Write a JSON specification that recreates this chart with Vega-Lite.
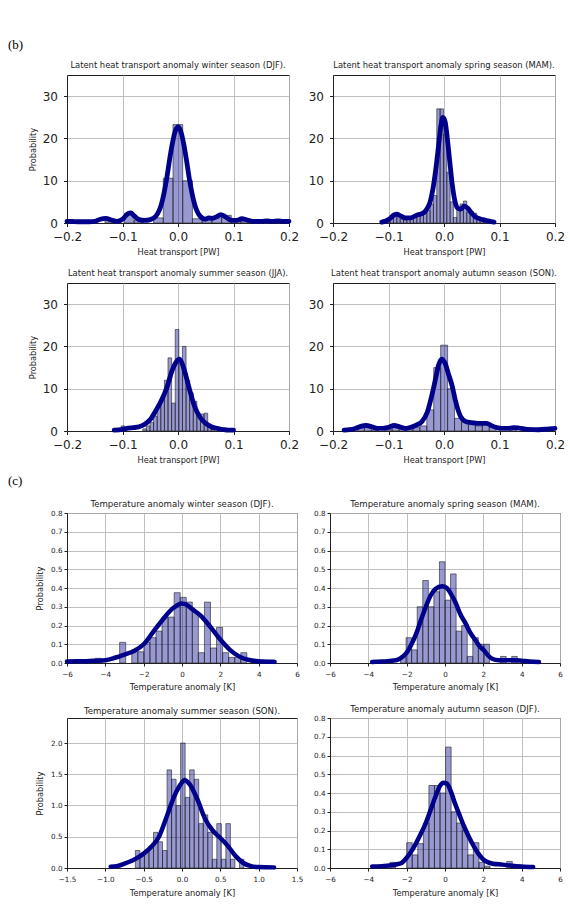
{
"$schema": "https://vega.github.io/schema/vega-lite/v6.json",
"padding": {"left": 8, "top": 39, "right": 4, "bottom": 4},
"background": "white",
"spacing": 9,
"config": {
  "font": "DejaVu Sans",
  "view": {"stroke": "#222", "strokeWidth": 1},
  "axis": {"grid": true, "gridColor": "#b8b8b8", "gridWidth": 0.9, "domainColor": "#222", "tickColor": "#222", "labelColor": "#222", "titleColor": "#222", "titleFontWeight": "normal", "labelFlush": false, "labelOverlap": false, "tickCount": 20},
  "title": {"fontWeight": "normal", "color": "#222"}
},
"datasets": {
  "b1b": [
    {"x": -0.1315, "x2": -0.114, "y": 1.0}, {"x": -0.0965, "x2": -0.079, "y": 2.3}, {"x": -0.079, "x2": -0.0615, "y": 0.6},
    {"x": -0.044, "x2": -0.0265, "y": 1.2}, {"x": -0.0265, "x2": -0.009, "y": 10.6}, {"x": -0.009, "x2": 0.0085, "y": 23.3},
    {"x": 0.0085, "x2": 0.026, "y": 10.0}, {"x": 0.026, "x2": 0.0435, "y": 1.0}, {"x": 0.0435, "x2": 0.061, "y": 1.2},
    {"x": 0.061, "x2": 0.0785, "y": 1.6}, {"x": 0.0785, "x2": 0.096, "y": 1.8}, {"x": 0.096, "x2": 0.1135, "y": 0.5},
    {"x": 0.1135, "x2": 0.131, "y": 0.9}, {"x": 0.166, "x2": 0.1835, "y": 0.3}
  ],
  "b1k": [
    {"x": -0.2, "y": 0.4}, {"x": -0.19, "y": 0.35}, {"x": -0.18, "y": 0.3}, {"x": -0.17, "y": 0.3}, {"x": -0.16, "y": 0.3},
    {"x": -0.15, "y": 0.4}, {"x": -0.14, "y": 0.9}, {"x": -0.13, "y": 1.1}, {"x": -0.12, "y": 0.7}, {"x": -0.11, "y": 0.4},
    {"x": -0.1, "y": 0.9}, {"x": -0.09, "y": 2.2}, {"x": -0.085, "y": 2.4}, {"x": -0.08, "y": 1.8}, {"x": -0.07, "y": 0.8},
    {"x": -0.06, "y": 0.6}, {"x": -0.05, "y": 0.8}, {"x": -0.04, "y": 1.6}, {"x": -0.03, "y": 4.4}, {"x": -0.02, "y": 10.8},
    {"x": -0.015, "y": 15.1}, {"x": -0.01, "y": 18.9}, {"x": -0.005, "y": 21.7}, {"x": 0, "y": 22.7}, {"x": 0.005, "y": 21.7},
    {"x": 0.01, "y": 18.9}, {"x": 0.015, "y": 15.1}, {"x": 0.02, "y": 10.8}, {"x": 0.03, "y": 4.4}, {"x": 0.04, "y": 1.6},
    {"x": 0.05, "y": 0.9}, {"x": 0.055, "y": 1.2}, {"x": 0.062, "y": 1.1}, {"x": 0.07, "y": 1.5}, {"x": 0.077, "y": 2.0},
    {"x": 0.085, "y": 1.5}, {"x": 0.095, "y": 0.7}, {"x": 0.105, "y": 0.6}, {"x": 0.115, "y": 1.0}, {"x": 0.125, "y": 0.7},
    {"x": 0.135, "y": 0.4}, {"x": 0.15, "y": 0.4}, {"x": 0.16, "y": 0.5}, {"x": 0.17, "y": 0.4}, {"x": 0.18, "y": 0.5},
    {"x": 0.19, "y": 0.4}, {"x": 0.2, "y": 0.4}
  ],
  "b2b": [
    {"x": -0.103, "x2": -0.097, "y": 0.3}, {"x": -0.097, "x2": -0.091, "y": 1.0}, {"x": -0.091, "x2": -0.085, "y": 2.0},
    {"x": -0.085, "x2": -0.079, "y": 2.0}, {"x": -0.079, "x2": -0.073, "y": 1.0}, {"x": -0.073, "x2": -0.067, "y": 0.7},
    {"x": -0.067, "x2": -0.061, "y": 0.8}, {"x": -0.061, "x2": -0.055, "y": 1.2}, {"x": -0.055, "x2": -0.049, "y": 1.8},
    {"x": -0.049, "x2": -0.043, "y": 2.3}, {"x": -0.043, "x2": -0.037, "y": 2.0}, {"x": -0.037, "x2": -0.031, "y": 2.5},
    {"x": -0.031, "x2": -0.025, "y": 3.0}, {"x": -0.025, "x2": -0.019, "y": 4.5}, {"x": -0.019, "x2": -0.013, "y": 6.5},
    {"x": -0.013, "x2": -0.007, "y": 27.0}, {"x": -0.007, "x2": -0.001, "y": 27.0}, {"x": -0.001, "x2": 0.005, "y": 21.0},
    {"x": 0.005, "x2": 0.011, "y": 12.0}, {"x": 0.011, "x2": 0.017, "y": 5.0}, {"x": 0.017, "x2": 0.023, "y": 1.3},
    {"x": 0.023, "x2": 0.029, "y": 3.5}, {"x": 0.029, "x2": 0.035, "y": 4.5}, {"x": 0.035, "x2": 0.041, "y": 5.2},
    {"x": 0.041, "x2": 0.047, "y": 2.5}, {"x": 0.047, "x2": 0.053, "y": 2.7}, {"x": 0.053, "x2": 0.059, "y": 2.3},
    {"x": 0.059, "x2": 0.065, "y": 1.0}, {"x": 0.065, "x2": 0.071, "y": 0.8}, {"x": 0.071, "x2": 0.077, "y": 0.3}
  ],
  "b2k": [
    {"x": -0.112, "y": 0.2}, {"x": -0.1, "y": 0.8}, {"x": -0.09, "y": 1.9}, {"x": -0.085, "y": 2.1}, {"x": -0.08, "y": 1.8},
    {"x": -0.07, "y": 1.2}, {"x": -0.06, "y": 1.2}, {"x": -0.05, "y": 1.8}, {"x": -0.045, "y": 2.0}, {"x": -0.04, "y": 2.2},
    {"x": -0.035, "y": 2.6}, {"x": -0.03, "y": 3.5}, {"x": -0.025, "y": 5.0}, {"x": -0.02, "y": 8.0}, {"x": -0.015, "y": 12.5},
    {"x": -0.01, "y": 18.0}, {"x": -0.005, "y": 23.5}, {"x": -0.002, "y": 25.0}, {"x": 0.002, "y": 24.0}, {"x": 0.006, "y": 20.0},
    {"x": 0.01, "y": 15.0}, {"x": 0.015, "y": 9.0}, {"x": 0.02, "y": 5.0}, {"x": 0.025, "y": 3.5}, {"x": 0.03, "y": 3.3},
    {"x": 0.037, "y": 4.0}, {"x": 0.043, "y": 3.5}, {"x": 0.05, "y": 2.3}, {"x": 0.055, "y": 1.6}, {"x": 0.06, "y": 1.2},
    {"x": 0.07, "y": 0.8}, {"x": 0.08, "y": 0.5}, {"x": 0.09, "y": 0.2}
  ],
  "b3b": [
    {"x": -0.1025, "x2": -0.096, "y": 1.2}, {"x": -0.0635, "x2": -0.057, "y": 0.5}, {"x": -0.057, "x2": -0.0505, "y": 1.2},
    {"x": -0.0505, "x2": -0.044, "y": 2.0}, {"x": -0.044, "x2": -0.0375, "y": 3.5}, {"x": -0.0375, "x2": -0.031, "y": 6.0},
    {"x": -0.031, "x2": -0.0245, "y": 8.0}, {"x": -0.0245, "x2": -0.018, "y": 12.0}, {"x": -0.018, "x2": -0.0115, "y": 17.3},
    {"x": -0.0115, "x2": -0.005, "y": 6.6}, {"x": -0.005, "x2": 0.0015, "y": 24.0}, {"x": 0.0015, "x2": 0.008, "y": 16.0},
    {"x": 0.008, "x2": 0.0145, "y": 20.0}, {"x": 0.0145, "x2": 0.021, "y": 12.0}, {"x": 0.021, "x2": 0.0275, "y": 9.0},
    {"x": 0.0275, "x2": 0.034, "y": 7.0}, {"x": 0.034, "x2": 0.0405, "y": 4.0}, {"x": 0.0405, "x2": 0.047, "y": 4.0},
    {"x": 0.047, "x2": 0.0535, "y": 4.2}, {"x": 0.0535, "x2": 0.06, "y": 1.0}, {"x": 0.06, "x2": 0.0665, "y": 0.5}
  ],
  "b3k": [
    {"x": -0.115, "y": 0.2}, {"x": -0.1, "y": 0.4}, {"x": -0.09, "y": 0.7}, {"x": -0.08, "y": 0.8}, {"x": -0.07, "y": 1.0},
    {"x": -0.06, "y": 1.6}, {"x": -0.05, "y": 2.7}, {"x": -0.04, "y": 4.8}, {"x": -0.03, "y": 7.2}, {"x": -0.02, "y": 10.3},
    {"x": -0.01, "y": 14.5}, {"x": 0, "y": 16.8}, {"x": 0.003, "y": 17.0}, {"x": 0.01, "y": 15.0}, {"x": 0.02, "y": 10.2},
    {"x": 0.03, "y": 5.8}, {"x": 0.04, "y": 3.2}, {"x": 0.05, "y": 1.8}, {"x": 0.06, "y": 1.0}, {"x": 0.07, "y": 0.6},
    {"x": 0.08, "y": 0.4}, {"x": 0.09, "y": 0.2}, {"x": 0.1, "y": 0.2}
  ],
  "b4b": [
    {"x": -0.156, "x2": -0.1435, "y": 1.0}, {"x": -0.1435, "x2": -0.131, "y": 1.5}, {"x": -0.131, "x2": -0.1185, "y": 0.3},
    {"x": -0.106, "x2": -0.0935, "y": 0.4}, {"x": -0.0935, "x2": -0.081, "y": 1.5}, {"x": -0.081, "x2": -0.0685, "y": 0.6},
    {"x": -0.0685, "x2": -0.056, "y": 0.5}, {"x": -0.056, "x2": -0.0435, "y": 0.8}, {"x": -0.0435, "x2": -0.031, "y": 1.2},
    {"x": -0.031, "x2": -0.0185, "y": 5.0}, {"x": -0.0185, "x2": -0.006, "y": 15.0}, {"x": -0.006, "x2": 0.0065, "y": 20.3},
    {"x": 0.0065, "x2": 0.019, "y": 10.0}, {"x": 0.019, "x2": 0.0315, "y": 3.0}, {"x": 0.0315, "x2": 0.044, "y": 2.0},
    {"x": 0.044, "x2": 0.0565, "y": 1.5}, {"x": 0.0565, "x2": 0.069, "y": 1.2}, {"x": 0.069, "x2": 0.0815, "y": 1.8},
    {"x": 0.0815, "x2": 0.094, "y": 0.8}, {"x": 0.119, "x2": 0.1315, "y": 0.5}, {"x": 0.1815, "x2": 0.194, "y": 0.3}
  ],
  "b4k": [
    {"x": -0.18, "y": 0.2}, {"x": -0.17, "y": 0.3}, {"x": -0.16, "y": 0.6}, {"x": -0.15, "y": 1.1}, {"x": -0.14, "y": 1.3},
    {"x": -0.13, "y": 1.0}, {"x": -0.12, "y": 0.6}, {"x": -0.11, "y": 0.6}, {"x": -0.1, "y": 0.9}, {"x": -0.09, "y": 1.3},
    {"x": -0.08, "y": 1.0}, {"x": -0.07, "y": 0.6}, {"x": -0.06, "y": 0.9}, {"x": -0.05, "y": 1.4}, {"x": -0.04, "y": 2.2},
    {"x": -0.03, "y": 4.5}, {"x": -0.02, "y": 9.5}, {"x": -0.015, "y": 12.5}, {"x": -0.01, "y": 15.5}, {"x": -0.004, "y": 17.0},
    {"x": 0.002, "y": 16.0}, {"x": 0.008, "y": 13.5}, {"x": 0.015, "y": 10.5}, {"x": 0.02, "y": 7.5}, {"x": 0.03, "y": 3.4},
    {"x": 0.04, "y": 2.2}, {"x": 0.05, "y": 2.0}, {"x": 0.06, "y": 1.8}, {"x": 0.07, "y": 1.8}, {"x": 0.077, "y": 1.8},
    {"x": 0.085, "y": 1.3}, {"x": 0.095, "y": 0.8}, {"x": 0.105, "y": 0.6}, {"x": 0.115, "y": 0.6}, {"x": 0.125, "y": 0.8},
    {"x": 0.135, "y": 0.7}, {"x": 0.15, "y": 0.4}, {"x": 0.17, "y": 0.3}, {"x": 0.19, "y": 0.5}, {"x": 0.2, "y": 0.6}
  ],
  "c1b": [
    {"x": -4.518, "x2": -4.202, "y": 0.025}, {"x": -3.254, "x2": -2.938, "y": 0.11}, {"x": -2.622, "x2": -2.306, "y": 0.07},
    {"x": -2.306, "x2": -1.99, "y": 0.06}, {"x": -1.99, "x2": -1.674, "y": 0.11}, {"x": -1.674, "x2": -1.358, "y": 0.135},
    {"x": -1.358, "x2": -1.042, "y": 0.17}, {"x": -1.042, "x2": -0.726, "y": 0.245}, {"x": -0.726, "x2": -0.41, "y": 0.245},
    {"x": -0.41, "x2": -0.094, "y": 0.375}, {"x": -0.094, "x2": 0.222, "y": 0.35}, {"x": 0.222, "x2": 0.538, "y": 0.325},
    {"x": 0.538, "x2": 0.854, "y": 0.27}, {"x": 0.854, "x2": 1.17, "y": 0.055}, {"x": 1.17, "x2": 1.486, "y": 0.325},
    {"x": 1.486, "x2": 1.802, "y": 0.08}, {"x": 1.802, "x2": 2.118, "y": 0.19}, {"x": 2.118, "x2": 2.434, "y": 0.055},
    {"x": 2.434, "x2": 2.75, "y": 0.03}, {"x": 2.75, "x2": 3.066, "y": 0.03}, {"x": 3.066, "x2": 3.382, "y": 0.055}
  ],
  "c1k": [
    {"x": -6, "y": 0.008}, {"x": -5.5, "y": 0.01}, {"x": -5, "y": 0.01}, {"x": -4.5, "y": 0.012}, {"x": -4, "y": 0.015},
    {"x": -3.5, "y": 0.028}, {"x": -3, "y": 0.045}, {"x": -2.5, "y": 0.064}, {"x": -2, "y": 0.1}, {"x": -1.5, "y": 0.166},
    {"x": -1, "y": 0.232}, {"x": -0.5, "y": 0.29}, {"x": 0, "y": 0.318}, {"x": 0.25, "y": 0.31}, {"x": 0.5, "y": 0.29},
    {"x": 1, "y": 0.25}, {"x": 1.5, "y": 0.19}, {"x": 2, "y": 0.125}, {"x": 2.5, "y": 0.07}, {"x": 3, "y": 0.034},
    {"x": 3.5, "y": 0.016}, {"x": 4, "y": 0.009}, {"x": 4.83, "y": 0.006}
  ],
  "c2b": [
    {"x": -2.32, "x2": -2.03, "y": 0.035}, {"x": -2.03, "x2": -1.74, "y": 0.135}, {"x": -1.74, "x2": -1.45, "y": 0.07},
    {"x": -1.45, "x2": -1.16, "y": 0.3}, {"x": -1.16, "x2": -0.87, "y": 0.44}, {"x": -0.87, "x2": -0.58, "y": 0.3},
    {"x": -0.58, "x2": -0.29, "y": 0.38}, {"x": -0.29, "x2": 0, "y": 0.54}, {"x": 0, "x2": 0.29, "y": 0.335},
    {"x": 0.29, "x2": 0.58, "y": 0.475}, {"x": 0.58, "x2": 0.87, "y": 0.17}, {"x": 0.87, "x2": 1.16, "y": 0.2},
    {"x": 1.16, "x2": 1.45, "y": 0.035}, {"x": 1.45, "x2": 1.74, "y": 0.135}, {"x": 1.74, "x2": 2.03, "y": 0.1},
    {"x": 2.03, "x2": 2.32, "y": 0.1}, {"x": 2.9, "x2": 3.19, "y": 0.035}, {"x": 3.48, "x2": 3.77, "y": 0.035}
  ],
  "c2k": [
    {"x": -3.8, "y": 0.005}, {"x": -3.5, "y": 0.007}, {"x": -3, "y": 0.01}, {"x": -2.5, "y": 0.016}, {"x": -2.2, "y": 0.035},
    {"x": -2, "y": 0.055}, {"x": -1.75, "y": 0.1}, {"x": -1.5, "y": 0.157}, {"x": -1.25, "y": 0.23}, {"x": -1, "y": 0.3},
    {"x": -0.75, "y": 0.36}, {"x": -0.5, "y": 0.395}, {"x": -0.15, "y": 0.41}, {"x": 0.1, "y": 0.4}, {"x": 0.3, "y": 0.37},
    {"x": 0.56, "y": 0.32}, {"x": 0.8, "y": 0.26}, {"x": 1.08, "y": 0.21}, {"x": 1.3, "y": 0.165}, {"x": 1.6, "y": 0.12},
    {"x": 1.8, "y": 0.09}, {"x": 2.03, "y": 0.068}, {"x": 2.25, "y": 0.04}, {"x": 2.46, "y": 0.023}, {"x": 2.8, "y": 0.015},
    {"x": 3.2, "y": 0.015}, {"x": 3.6, "y": 0.015}, {"x": 4, "y": 0.012}, {"x": 4.4, "y": 0.008}, {"x": 4.9, "y": 0.005}
  ],
  "c3b": [
    {"x": -0.608, "x2": -0.549, "y": 0.28}, {"x": -0.549, "x2": -0.49, "y": 0.21}, {"x": -0.49, "x2": -0.431, "y": 0.28},
    {"x": -0.431, "x2": -0.372, "y": 0.35}, {"x": -0.372, "x2": -0.313, "y": 0.57}, {"x": -0.313, "x2": -0.254, "y": 0.42},
    {"x": -0.254, "x2": -0.195, "y": 0.28}, {"x": -0.195, "x2": -0.136, "y": 1.57}, {"x": -0.136, "x2": -0.077, "y": 1.42},
    {"x": -0.077, "x2": -0.018, "y": 1.0}, {"x": -0.018, "x2": 0.041, "y": 2.0}, {"x": 0.041, "x2": 0.1, "y": 1.13},
    {"x": 0.1, "x2": 0.159, "y": 1.57}, {"x": 0.159, "x2": 0.218, "y": 1.42}, {"x": 0.218, "x2": 0.277, "y": 0.71},
    {"x": 0.277, "x2": 0.336, "y": 0.85}, {"x": 0.336, "x2": 0.395, "y": 0.57}, {"x": 0.395, "x2": 0.454, "y": 0.14},
    {"x": 0.454, "x2": 0.513, "y": 0.71}, {"x": 0.513, "x2": 0.572, "y": 0.14}, {"x": 0.572, "x2": 0.631, "y": 0.71},
    {"x": 0.631, "x2": 0.69, "y": 0.14}, {"x": 0.749, "x2": 0.808, "y": 0.14}
  ],
  "c3k": [
    {"x": -0.93, "y": 0.02}, {"x": -0.85, "y": 0.03}, {"x": -0.75, "y": 0.07}, {"x": -0.6, "y": 0.15}, {"x": -0.5, "y": 0.23},
    {"x": -0.4, "y": 0.34}, {"x": -0.3, "y": 0.5}, {"x": -0.2, "y": 0.82}, {"x": -0.1, "y": 1.15}, {"x": 0, "y": 1.37},
    {"x": 0.03, "y": 1.41}, {"x": 0.1, "y": 1.34}, {"x": 0.2, "y": 1.1}, {"x": 0.3, "y": 0.79}, {"x": 0.4, "y": 0.6},
    {"x": 0.5, "y": 0.48}, {"x": 0.6, "y": 0.35}, {"x": 0.7, "y": 0.19}, {"x": 0.8, "y": 0.08}, {"x": 0.9, "y": 0.03},
    {"x": 1.0, "y": 0.015}, {"x": 1.2, "y": 0.01}
  ],
  "c4b": [
    {"x": -2.87, "x2": -2.58, "y": 0.03}, {"x": -2.0, "x2": -1.71, "y": 0.135}, {"x": -1.71, "x2": -1.42, "y": 0.07},
    {"x": -1.42, "x2": -1.13, "y": 0.13}, {"x": -1.13, "x2": -0.84, "y": 0.24}, {"x": -0.84, "x2": -0.55, "y": 0.44},
    {"x": -0.55, "x2": -0.26, "y": 0.44}, {"x": -0.26, "x2": 0.03, "y": 0.4}, {"x": 0.03, "x2": 0.32, "y": 0.645},
    {"x": 0.32, "x2": 0.61, "y": 0.3}, {"x": 0.61, "x2": 0.9, "y": 0.24}, {"x": 0.9, "x2": 1.19, "y": 0.2},
    {"x": 1.19, "x2": 1.48, "y": 0.07}, {"x": 1.48, "x2": 1.77, "y": 0.135}, {"x": 1.77, "x2": 2.06, "y": 0.03},
    {"x": 2.06, "x2": 2.35, "y": 0.01}, {"x": 3.22, "x2": 3.51, "y": 0.035}
  ],
  "c4k": [
    {"x": -3.8, "y": 0.008}, {"x": -3.3, "y": 0.01}, {"x": -2.8, "y": 0.015}, {"x": -2.5, "y": 0.02}, {"x": -2.3, "y": 0.025},
    {"x": -2.0, "y": 0.055}, {"x": -1.75, "y": 0.09}, {"x": -1.5, "y": 0.134}, {"x": -1.25, "y": 0.185}, {"x": -1.0, "y": 0.24},
    {"x": -0.75, "y": 0.31}, {"x": -0.5, "y": 0.38}, {"x": -0.25, "y": 0.44}, {"x": -0.1, "y": 0.455}, {"x": 0.1, "y": 0.45},
    {"x": 0.3, "y": 0.41}, {"x": 0.5, "y": 0.35}, {"x": 0.75, "y": 0.285}, {"x": 1.0, "y": 0.22}, {"x": 1.25, "y": 0.165},
    {"x": 1.5, "y": 0.116}, {"x": 1.75, "y": 0.075}, {"x": 2.0, "y": 0.045}, {"x": 2.25, "y": 0.03}, {"x": 2.5, "y": 0.023},
    {"x": 3.0, "y": 0.018}, {"x": 3.5, "y": 0.012}, {"x": 4.0, "y": 0.008}, {"x": 4.6, "y": 0.005}
  ]
},
"vconcat": [
  {
    "title": {"text": "(b)", "anchor": "start", "frame": "group", "font": "Liberation Serif", "fontSize": 13, "color": "#000", "dx": -59, "offset": 8},
    "columns": 2, "bounds": "flush", "spacing": {"column": 44, "row": 60},
    "concat": [
      {"width": 222, "height": 148, "title": {"text": "Latent heat transport anomaly winter season (DJF).", "fontSize": 8.4, "offset": 6},
       "layer": [
        {"data": {"name": "b1b"}, "mark": {"type": "rect", "fill": "#00008b", "fillOpacity": 0.4, "stroke": "#222", "strokeWidth": 0.6},
         "encoding": {
          "x": {"field": "x", "type": "quantitative", "scale": {"domain": [-0.2, 0.2], "nice": false, "zero": false}, "axis": {"title": "Heat transport [PW]", "values": [-0.2, -0.1, 0, 0.1, 0.2], "format": ".1f", "labelFontSize": 12, "titleFontSize": 8.2, "tickSize": 3.5, "labelPadding": 5, "titlePadding": 6}},
          "x2": {"field": "x2"},
          "y": {"field": "y", "type": "quantitative", "scale": {"domain": [0, 35], "nice": false}, "axis": {"title": "Probability", "values": [0, 10, 20, 30], "format": "d", "labelFontSize": 12, "titleFontSize": 8.2, "tickSize": 3.5, "labelPadding": 6, "titlePadding": 5}},
          "y2": {"datum": 0}}},
        {"data": {"name": "b1k"}, "mark": {"type": "line", "color": "#00008b", "strokeWidth": 4.8, "interpolate": "monotone", "strokeCap": "round", "strokeJoin": "round"},
         "encoding": {"x": {"field": "x", "type": "quantitative"}, "y": {"field": "y", "type": "quantitative"}}}
       ]},
      {"width": 222, "height": 148, "title": {"text": "Latent heat transport anomaly spring season (MAM).", "fontSize": 8.4, "offset": 6},
       "layer": [
        {"data": {"name": "b2b"}, "mark": {"type": "rect", "fill": "#00008b", "fillOpacity": 0.4, "stroke": "#222", "strokeWidth": 0.6},
         "encoding": {
          "x": {"field": "x", "type": "quantitative", "scale": {"domain": [-0.2, 0.2], "nice": false, "zero": false}, "axis": {"title": "Heat transport [PW]", "values": [-0.2, -0.1, 0, 0.1, 0.2], "format": ".1f", "labelFontSize": 12, "titleFontSize": 8.2, "tickSize": 3.5, "labelPadding": 5, "titlePadding": 6}},
          "x2": {"field": "x2"},
          "y": {"field": "y", "type": "quantitative", "scale": {"domain": [0, 35], "nice": false}, "axis": {"title": null, "values": [0, 10, 20, 30], "format": "d", "labelFontSize": 12, "tickSize": 3.5, "labelPadding": 6}},
          "y2": {"datum": 0}}},
        {"data": {"name": "b2k"}, "mark": {"type": "line", "color": "#00008b", "strokeWidth": 4.8, "interpolate": "monotone", "strokeCap": "round", "strokeJoin": "round"},
         "encoding": {"x": {"field": "x", "type": "quantitative"}, "y": {"field": "y", "type": "quantitative"}}}
       ]},
      {"width": 222, "height": 148, "title": {"text": "Latent heat transport anomaly summer season (JJA).", "fontSize": 8.4, "offset": 6},
       "layer": [
        {"data": {"name": "b3b"}, "mark": {"type": "rect", "fill": "#00008b", "fillOpacity": 0.4, "stroke": "#222", "strokeWidth": 0.6},
         "encoding": {
          "x": {"field": "x", "type": "quantitative", "scale": {"domain": [-0.2, 0.2], "nice": false, "zero": false}, "axis": {"title": "Heat transport [PW]", "values": [-0.2, -0.1, 0, 0.1, 0.2], "format": ".1f", "labelFontSize": 12, "titleFontSize": 8.2, "tickSize": 3.5, "labelPadding": 5, "titlePadding": 6}},
          "x2": {"field": "x2"},
          "y": {"field": "y", "type": "quantitative", "scale": {"domain": [0, 35], "nice": false}, "axis": {"title": "Probability", "values": [0, 10, 20, 30], "format": "d", "labelFontSize": 12, "titleFontSize": 8.2, "tickSize": 3.5, "labelPadding": 6, "titlePadding": 5}},
          "y2": {"datum": 0}}},
        {"data": {"name": "b3k"}, "mark": {"type": "line", "color": "#00008b", "strokeWidth": 4.8, "interpolate": "monotone", "strokeCap": "round", "strokeJoin": "round"},
         "encoding": {"x": {"field": "x", "type": "quantitative"}, "y": {"field": "y", "type": "quantitative"}}}
       ]},
      {"width": 222, "height": 148, "title": {"text": "Latent heat transport anomaly autumn season (SON).", "fontSize": 8.4, "offset": 6},
       "layer": [
        {"data": {"name": "b4b"}, "mark": {"type": "rect", "fill": "#00008b", "fillOpacity": 0.4, "stroke": "#222", "strokeWidth": 0.6},
         "encoding": {
          "x": {"field": "x", "type": "quantitative", "scale": {"domain": [-0.2, 0.2], "nice": false, "zero": false}, "axis": {"title": "Heat transport [PW]", "values": [-0.2, -0.1, 0, 0.1, 0.2], "format": ".1f", "labelFontSize": 12, "titleFontSize": 8.2, "tickSize": 3.5, "labelPadding": 5, "titlePadding": 6}},
          "x2": {"field": "x2"},
          "y": {"field": "y", "type": "quantitative", "scale": {"domain": [0, 35], "nice": false}, "axis": {"title": null, "values": [0, 10, 20, 30], "format": "d", "labelFontSize": 12, "tickSize": 3.5, "labelPadding": 6}},
          "y2": {"datum": 0}}},
        {"data": {"name": "b4k"}, "mark": {"type": "line", "color": "#00008b", "strokeWidth": 4.8, "interpolate": "monotone", "strokeCap": "round", "strokeJoin": "round"},
         "encoding": {"x": {"field": "x", "type": "quantitative"}, "y": {"field": "y", "type": "quantitative"}}}
       ]}
    ]
  },
  {
    "title": {"text": "(c)", "anchor": "start", "frame": "group", "font": "Liberation Serif", "fontSize": 13, "color": "#000", "dx": -59, "offset": 12},
    "columns": 2, "bounds": "flush", "spacing": {"column": 33, "row": 55},
    "concat": [
      {"width": 230, "height": 150, "title": {"text": "Temperature anomaly winter season (DJF).", "fontSize": 8.6, "offset": 0},
       "layer": [
        {"data": {"name": "c1b"}, "mark": {"type": "rect", "fill": "#00008b", "fillOpacity": 0.4, "stroke": "#222", "strokeWidth": 0.6},
         "encoding": {
          "x": {"field": "x", "type": "quantitative", "scale": {"domain": [-6, 6], "nice": false, "zero": false}, "axis": {"title": "Temperature anomaly [K]", "values": [-6, -4, -2, 0, 2, 4, 6], "format": "d", "labelFontSize": 7.2, "titleFontSize": 8.3, "tickSize": 3, "labelPadding": 4, "titlePadding": 5}},
          "x2": {"field": "x2"},
          "y": {"field": "y", "type": "quantitative", "scale": {"domain": [0, 0.8], "nice": false}, "axis": {"title": "Probability", "values": [0, 0.1, 0.2, 0.3, 0.4, 0.5, 0.6, 0.7, 0.8], "format": ".1f", "labelFontSize": 7.2, "titleFontSize": 8.3, "tickSize": 3, "labelPadding": 2, "titlePadding": 6}},
          "y2": {"datum": 0}}},
        {"data": {"name": "c1k"}, "mark": {"type": "line", "color": "#00008b", "strokeWidth": 4.5, "interpolate": "monotone", "strokeCap": "round", "strokeJoin": "round"},
         "encoding": {"x": {"field": "x", "type": "quantitative"}, "y": {"field": "y", "type": "quantitative"}}}
       ]},
      {"width": 230, "height": 150, "title": {"text": "Temperature anomaly spring season (MAM).", "fontSize": 8.6, "offset": 0},
       "layer": [
        {"data": {"name": "c2b"}, "mark": {"type": "rect", "fill": "#00008b", "fillOpacity": 0.4, "stroke": "#222", "strokeWidth": 0.6},
         "encoding": {
          "x": {"field": "x", "type": "quantitative", "scale": {"domain": [-6, 6], "nice": false, "zero": false}, "axis": {"title": "Temperature anomaly [K]", "values": [-6, -4, -2, 0, 2, 4, 6], "format": "d", "labelFontSize": 7.2, "titleFontSize": 8.3, "tickSize": 3, "labelPadding": 4, "titlePadding": 5}},
          "x2": {"field": "x2"},
          "y": {"field": "y", "type": "quantitative", "scale": {"domain": [0, 0.8], "nice": false}, "axis": {"title": null, "values": [0, 0.1, 0.2, 0.3, 0.4, 0.5, 0.6, 0.7, 0.8], "format": ".1f", "labelFontSize": 7.2, "tickSize": 3, "labelPadding": 2}},
          "y2": {"datum": 0}}},
        {"data": {"name": "c2k"}, "mark": {"type": "line", "color": "#00008b", "strokeWidth": 4.5, "interpolate": "monotone", "strokeCap": "round", "strokeJoin": "round"},
         "encoding": {"x": {"field": "x", "type": "quantitative"}, "y": {"field": "y", "type": "quantitative"}}}
       ]},
      {"width": 230, "height": 150, "title": {"text": "Temperature anomaly summer season (SON).", "fontSize": 8.6, "offset": 2},
       "layer": [
        {"data": {"name": "c3b"}, "mark": {"type": "rect", "fill": "#00008b", "fillOpacity": 0.4, "stroke": "#222", "strokeWidth": 0.6},
         "encoding": {
          "x": {"field": "x", "type": "quantitative", "scale": {"domain": [-1.5, 1.5], "nice": false, "zero": false}, "axis": {"title": "Temperature anomaly [K]", "values": [-1.5, -1, -0.5, 0, 0.5, 1, 1.5], "format": ".1f", "labelFontSize": 7.2, "titleFontSize": 8.3, "tickSize": 3, "labelPadding": 4, "titlePadding": 6}},
          "x2": {"field": "x2"},
          "y": {"field": "y", "type": "quantitative", "scale": {"domain": [0, 2.4], "nice": false}, "axis": {"title": "Probability", "values": [0, 0.5, 1, 1.5, 2], "format": ".1f", "labelFontSize": 7.2, "titleFontSize": 8.3, "tickSize": 3, "labelPadding": 2, "titlePadding": 6}},
          "y2": {"datum": 0}}},
        {"data": {"name": "c3k"}, "mark": {"type": "line", "color": "#00008b", "strokeWidth": 4.5, "interpolate": "monotone", "strokeCap": "round", "strokeJoin": "round"},
         "encoding": {"x": {"field": "x", "type": "quantitative"}, "y": {"field": "y", "type": "quantitative"}}}
       ]},
      {"width": 230, "height": 150, "title": {"text": "Temperature anomaly autumn season (DJF).", "fontSize": 8.6, "offset": 0},
       "layer": [
        {"data": {"name": "c4b"}, "mark": {"type": "rect", "fill": "#00008b", "fillOpacity": 0.4, "stroke": "#222", "strokeWidth": 0.6},
         "encoding": {
          "x": {"field": "x", "type": "quantitative", "scale": {"domain": [-6, 6], "nice": false, "zero": false}, "axis": {"title": "Temperature anomaly [K]", "values": [-6, -4, -2, 0, 2, 4, 6], "format": "d", "labelFontSize": 7.2, "titleFontSize": 8.3, "tickSize": 3, "labelPadding": 4, "titlePadding": 6}},
          "x2": {"field": "x2"},
          "y": {"field": "y", "type": "quantitative", "scale": {"domain": [0, 0.8], "nice": false}, "axis": {"title": null, "values": [0, 0.1, 0.2, 0.3, 0.4, 0.5, 0.6, 0.7, 0.8], "format": ".1f", "labelFontSize": 7.2, "tickSize": 3, "labelPadding": 2}},
          "y2": {"datum": 0}}},
        {"data": {"name": "c4k"}, "mark": {"type": "line", "color": "#00008b", "strokeWidth": 4.5, "interpolate": "monotone", "strokeCap": "round", "strokeJoin": "round"},
         "encoding": {"x": {"field": "x", "type": "quantitative"}, "y": {"field": "y", "type": "quantitative"}}}
       ]}
    ]
  }
]
}
